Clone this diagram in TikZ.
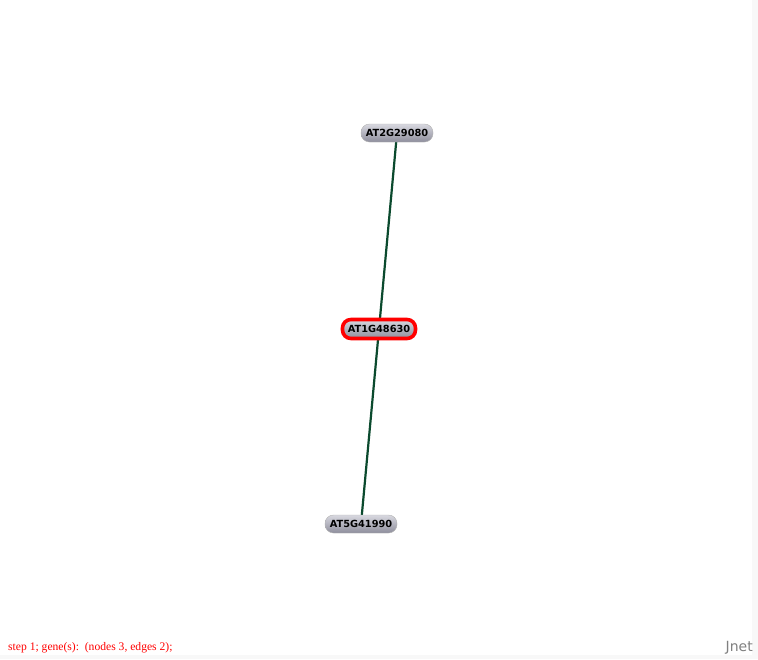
\documentclass[tikz,border=0pt]{standalone}
\usepackage{fontspec}
\setmainfont{Liberation Serif}
\newfontfamily\genefont{DejaVu Sans}
\newfontfamily\logofont{DejaVu Sans}
\definecolor{edgegreen}{HTML}{0B4A2E}
\definecolor{genetop}{HTML}{D8D8E0}
\definecolor{genebot}{HTML}{8E8E9C}
\definecolor{panelgray}{HTML}{F8F8F8}

\begin{document}
\begin{tikzpicture}[x=1pt,y=-1pt,
    gene/.style={rounded corners=8.5pt, minimum width=72pt, minimum height=18pt,
        inner sep=0pt, top color=genetop, bottom color=genebot, draw=gray!60,
        font=\genefont\bfseries\fontsize{9.8}{11}\selectfont},
    query/.style={gene, minimum width=73pt, minimum height=19pt, draw=red, line width=3.6pt},
    link/.style={edgegreen, line width=2.2pt}]

    % canvas
    \useasboundingbox (0,0) rectangle (758,659);
    \fill[white] (0,0) rectangle (758,659);
    \fill[panelgray] (752,0) rectangle (758,659);
    \fill[panelgray] (0,655) rectangle (758,659);

    % edges (drawn first, under the nodes)
    \coordinate (c2) at (397,133);
    \coordinate (c1) at (379,329);
    \coordinate (c5) at (361,524);
    \draw[link] (c2) -- (c1);
    \draw[link] (c1) -- (c5);

    % genes
    \node[gene] (at2g) at (c2) {AT2G29080};
    \node[query] (at1g) at (c1) {AT1G48630};
    \node[gene] (at5g) at (c5) {AT5G41990};

    % status line
    \node[red, anchor=west, inner sep=0pt, font=\fontsize{11.6}{13}\selectfont] (status) at (8,648)
        {step 1; gene(s):\ \ (nodes 3, edges 2);};
    \node[gray, anchor=east, inner sep=0pt, font=\logofont\fontsize{14}{16}\selectfont] (logo) at (753,648) {Jnet};

\end{tikzpicture}
\end{document}
